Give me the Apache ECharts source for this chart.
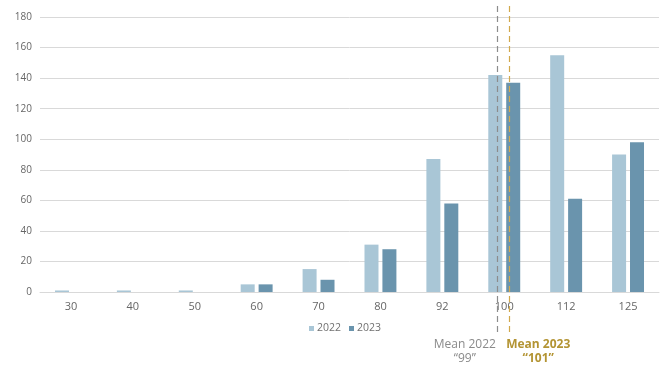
<!DOCTYPE html>
<html>
<head>
<meta charset="utf-8">
<script src="https://cdn.jsdelivr.net/npm/echarts@6/dist/echarts.min.js"></script>
<style>
  html, body { margin: 0; padding: 0; background: #fff; }
  #chart { width: 661px; height: 367px; }
</style>
</head>
<body>
<div id="chart"></div>
<script>
// Score buckets on the x axis
const categories = ['30', '40', '50', '60', '70', '80', '92', '100', '112', '125'];
// Counts per bucket
const values2022 = [1, 1, 1, 5, 15, 31, 87, 142, 155, 90];
const values2023 = [0, 0, 0, 5, 8, 28, 58, 137, 61, 98];
// Y axis range
const yTicks = [0, 20, 40, 60, 80, 100, 120, 140, 160, 180];
// Yearly means, shown as dashed markers
const meanYears = ['2022', '2023'];
const meanValues = [99, 101];

// Position of a value along the category axis, interpolated between bucket labels
function bucketIndex(v) {
  const nums = categories.map(Number);
  for (let i = 0; i < nums.length - 1; i++) {
    if (v >= nums[i] && v <= nums[i + 1]) {
      return i + (v - nums[i]) / (nums[i + 1] - nums[i]);
    }
  }
  return v < nums[0] ? 0 : nums.length - 1;
}

const meanColors = ['#8c8c8c', '#d1a94c'];
const meanLabelColors = ['#8a8a8a', '#b39433'];
const meanOffsets = [-32, 29];

const chart = echarts.init(document.getElementById('chart'), null, { renderer: 'canvas' });
const font = '"Open Sans", "Liberation Sans", sans-serif';

chart.setOption({
  animation: false,
  textStyle: { fontFamily: font },
  grid: [
    { left: 40, right: 2, top: 17, bottom: 75 },
    { left: 40, right: 2, top: 2, bottom: 35 }
  ],
  legend: {
    data: ['2022', '2023'],
    left: 304,
    top: 318,
    itemWidth: 5,
    itemHeight: 5,
    itemGap: 8,
    icon: 'rect',
    textStyle: { color: '#707070', fontSize: 10.5, fontFamily: font, padding: [0, 0, 0, -2] }
  },
  xAxis: [
    {
      type: 'category',
      gridIndex: 0,
      data: categories,
      axisLine: { lineStyle: { color: '#d9d9d9', width: 1 } },
      axisTick: { show: false },
      axisLabel: { color: '#666', fontSize: 11, margin: 9 }
    },
    {
      type: 'value',
      gridIndex: 1,
      min: -0.5,
      max: categories.length - 0.5,
      show: false
    }
  ],
  yAxis: [
    {
      type: 'value',
      gridIndex: 0,
      min: yTicks[0],
      max: yTicks[yTicks.length - 1],
      interval: 20,
      axisLine: { show: false },
      axisTick: { show: false },
      splitLine: { lineStyle: { color: '#d9d9d9', width: 1 } },
      axisLabel: { color: '#666', fontSize: 10, margin: 8 }
    },
    {
      type: 'value',
      gridIndex: 1,
      min: 0,
      max: 1,
      show: false
    }
  ],
  series: [
    {
      name: '2022',
      type: 'bar',
      xAxisIndex: 0,
      yAxisIndex: 0,
      data: values2022,
      barWidth: 14,
      barGap: '28%',
      itemStyle: { color: '#a9c6d6' }
    },
    {
      name: '2023',
      type: 'bar',
      xAxisIndex: 0,
      yAxisIndex: 0,
      data: values2023,
      barWidth: 14,
      itemStyle: { color: '#6a94ad' }
    },
    {
      name: 'means',
      type: 'line',
      xAxisIndex: 1,
      yAxisIndex: 1,
      data: [],
      z: 5,
      markLine: {
        silent: true,
        symbol: ['none', 'none'],
        data: meanValues.map((v, i) => ({
          xAxis: bucketIndex(v),
          lineStyle: { color: meanColors[i], type: [6, 4], width: 1.2 },
          label: {
            show: true,
            position: 'start',
            distance: 6,
            offset: [meanOffsets[i], 0],
            formatter: 'Mean ' + meanYears[i] + '\n\u201C' + v + '\u201D',
            color: meanLabelColors[i],
            fontSize: 12,
            lineHeight: 14,
            fontWeight: i === 1 ? 'bold' : 'normal',
            align: 'center'
          }
        }))
      }
    }
  ]
});
</script>
</body>
</html>
